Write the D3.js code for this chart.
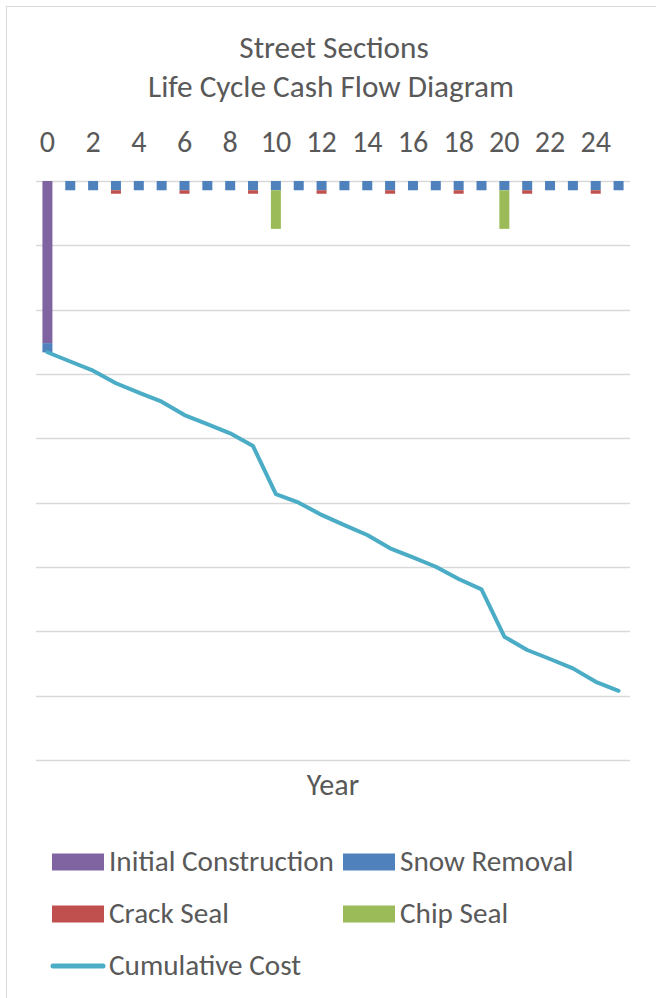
<!DOCTYPE html>
<html><head><meta charset="utf-8">
<script src="https://cdn.jsdelivr.net/npm/d3@7"></script>
<style>body{margin:0;background:#fff}svg{display:block}</style>
</head><body><svg id="c" width="656" height="998"></svg>
<script>
const years = [0,1,2,3,4,5,6,7,8,9,10,11,12,13,14,15,16,17,18,19,20,21,22,23,24,25];
const tickLabels = ["0","2","4","6","8","10","12","14","16","18","20","22","24"];
const initialConstruction = [-126000,0,0,0,0,0,0,0,0,0,0,0,0,0,0,0,0,0,0,0,0,0,0,0,0,0];
const snowRemoval = [-7200,-7200,-7200,-7200,-7200,-7200,-7200,-7200,-7200,-7200,-7200,-7200,-7200,-7200,-7200,-7200,-7200,-7200,-7200,-7200,-7200,-7200,-7200,-7200,-7200,-7200];
const crackSeal = [0,0,0,-2700,0,0,-2700,0,0,-2700,0,0,-2700,0,0,-2700,0,0,-2700,0,0,-2700,0,0,-2700,0];
const chipSeal = [0,0,0,0,0,0,0,0,0,0,-30000,0,0,0,0,0,0,0,0,0,-30000,0,0,0,0,0];
const cumulativeCost = [-133100,-140300,-147400,-157200,-164400,-171500,-181900,-188900,-196100,-206000,-243300,-250000,-259500,-267400,-275100,-285500,-292600,-299800,-309300,-317400,-354200,-364500,-371500,-378800,-389200,-396200];
const seriesNames = ["Initial Construction","Snow Removal","Crack Seal","Chip Seal"];
const lineName = "Cumulative Cost";
const gridValues = [0,-50000,-100000,-150000,-200000,-250000,-300000,-350000,-400000,-450000];

const colors = {"Initial Construction":"#8064A2","Snow Removal":"#4F81BD","Crack Seal":"#C0504D","Chip Seal":"#9BBB59"};
const lineColor = "#4BACC6";
const textColor = "#595959";
const FONT = "Carlito, Calibri, Lato, sans-serif";

const svg = d3.select("#c");
// chart border
svg.append("rect").attr("x",6.5).attr("y",6.5).attr("width",760).attr("height",1100)
  .attr("fill","none").attr("stroke","#D9D9D9").attr("stroke-width",1);

const x = d3.scaleBand().domain(years).range([36,630]).padding(0);
const y = d3.scaleLinear().domain([0,-450000]).range([181,760]);
const bw = 10;

function fit(sel, target){
  const w = sel.node().getComputedTextLength();
  const fs = parseFloat(sel.attr("font-size"));
  const n = fs*target/w;
  sel.attr("font-size", n);
  return n;
}

// gridlines
svg.append("g").selectAll("line").data(gridValues).join("line")
  .attr("x1",36).attr("x2",630)
  .attr("y1",d=>Math.round(y(d))+0.5).attr("y2",d=>Math.round(y(d))+0.5)
  .attr("stroke","#D9D9D9").attr("stroke-width",1.3);

// stacked bars
const table = years.map((yr,i)=>({year:yr,
  "Initial Construction":initialConstruction[i],
  "Snow Removal":snowRemoval[i],
  "Crack Seal":crackSeal[i],
  "Chip Seal":chipSeal[i]}));
const stack = d3.stack().keys(seriesNames).offset(d3.stackOffsetDiverging)(table);
svg.append("g").selectAll("g").data(stack).join("g")
  .attr("fill",d=>colors[d.key])
  .selectAll("rect").data(d=>d).join("rect")
  .attr("x",d=>x(d.data.year)+x.bandwidth()/2-bw/2)
  .attr("width",bw)
  .attr("y",d=>y(Math.max(d[0],d[1])))
  .attr("height",d=>Math.abs(y(d[0])-y(d[1])));

// cumulative line
const line = d3.line().x((d,i)=>x(years[i])+x.bandwidth()/2).y(d=>y(d));
svg.append("path").datum(cumulativeCost).attr("d",line)
  .attr("fill","none").attr("stroke",lineColor).attr("stroke-width",4)
  .attr("stroke-linejoin","round").attr("stroke-linecap","round");

// legend (measure font size)
const legendItems = [
  {name:"Initial Construction", type:"rect", sx:52, tx:109, base:870.5},
  {name:"Snow Removal", type:"rect", sx:343, tx:400, base:870.5},
  {name:"Crack Seal", type:"rect", sx:52, tx:109, base:922.5},
  {name:"Chip Seal", type:"rect", sx:343, tx:400, base:922.5},
  {name:lineName, type:"line", sx:52, tx:109, base:974.5}
];
const lg = svg.append("g");
const lt = lg.selectAll("text").data(legendItems).join("text")
  .attr("x",d=>d.tx).attr("y",d=>d.base).text(d=>d.name)
  .attr("font-family",FONT).attr("font-size",24).attr("fill",textColor);
const legendFs = fit(lt.filter(d=>d.name==="Initial Construction"), 225);
lt.attr("font-size", legendFs);
lg.selectAll("rect").data(legendItems.filter(d=>d.type==="rect")).join("rect")
  .attr("x",d=>d.sx).attr("y",d=>d.base-17).attr("width",52).attr("height",17)
  .attr("fill",d=>colors[d.name]);
lg.selectAll("line").data(legendItems.filter(d=>d.type==="line")).join("line")
  .attr("x1",d=>d.sx+1).attr("x2",d=>d.sx+51).attr("y1",d=>d.base-8.5).attr("y2",d=>d.base-8.5)
  .attr("stroke",lineColor).attr("stroke-width",5).attr("stroke-linecap","round");

// top axis
const axis = d3.axisTop(x).tickValues(years.filter(v=>tickLabels.includes(String(v))))
  .tickSize(0).tickPadding(29).tickFormat(d=>String(d));
const ag = svg.append("g").attr("transform","translate(0,181)").call(axis);
ag.select(".domain").remove();
ag.selectAll("text").attr("font-family",FONT).attr("font-size",legendFs*1.03).attr("fill",textColor);

// axis title
svg.append("text").attr("x",333).attr("y",795).attr("text-anchor","middle")
  .attr("font-family",FONT).attr("font-size",legendFs*1.03).attr("fill",textColor).text("Year");

// chart title
const t2 = svg.append("text").attr("x",331).attr("y",97).attr("text-anchor","middle")
  .attr("font-family",FONT).attr("font-size",24).attr("fill",textColor).text("Life Cycle Cash Flow Diagram");
const titleFs = fit(t2, 366);
svg.append("text").attr("x",334).attr("y",58).attr("text-anchor","middle")
  .attr("font-family",FONT).attr("font-size",titleFs).attr("fill",textColor).text("Street Sections");
</script></body></html>
